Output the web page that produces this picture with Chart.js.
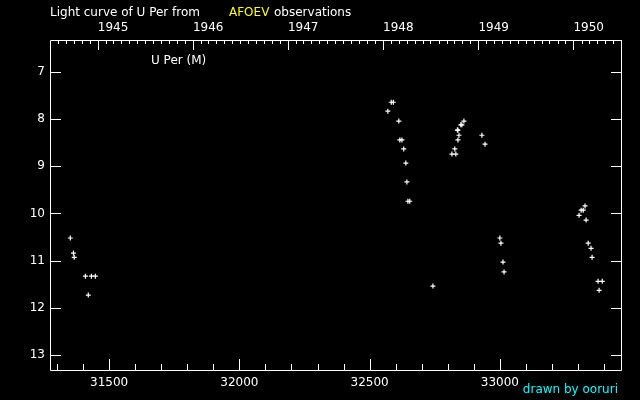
<!DOCTYPE html>
<html>
<head>
<meta charset="utf-8">
<title>Light curve of U Per</title>
<script src="https://cdn.jsdelivr.net/npm/chart.js@4"></script>
<style>
  html, body { margin: 0; padding: 0; background: #000; }
  #wrap { position: relative; width: 640px; height: 400px; }
  canvas { display: block; }
  .txt { position: absolute; font: 12px "DejaVu Sans", sans-serif; color: #fff; white-space: nowrap; line-height: 14px; }
</style>
</head>
<body>
<div id="wrap">
  <canvas id="lc" width="640" height="400"></canvas>
  <div class="txt" style="left:50px; top:5px;">Light curve of U Per from</div>
  <div class="txt" style="left:229px; top:5px; color:#ffff00;">AFOEV</div>
  <div class="txt" style="left:274px; top:5px;">observations</div>
  <div class="txt" style="left:151px; top:53px;">U Per (M)</div>
  <div class="txt" style="right:22px; top:382px; color:#00ffff;">drawn by ooruri</div>
</div>
<script>
// Julian dates (JD - 2400000) and visual magnitudes
const jdValues = [
  31351, 31363, 31366, 31409, 31420, 31432, 31447,
  32570, 32583, 32591, 32612, 32616, 32624, 32631, 32639, 32643, 32647, 32654,
  32743,
  32816, 32827, 32831, 32837, 32839, 32839, 32843, 32850, 32854, 32862,
  32931, 32943,
  33000, 33004, 33012, 33016,
  33304, 33312, 33320, 33327, 33331, 33339, 33350, 33354, 33377, 33381, 33393
];
const magValues = [
  10.52, 10.84, 10.93, 11.33, 11.73, 11.33, 11.33,
  7.83, 7.64, 7.64, 8.04, 8.44, 8.44, 8.63, 8.93, 9.33, 9.74, 9.74,
  11.54,
  8.74, 8.63, 8.74, 8.23, 8.23, 8.44, 8.34, 8.12, 8.12, 8.04,
  8.34, 8.53,
  10.52, 10.63, 11.03, 11.24,
  10.04, 9.93, 9.93, 9.84, 10.14, 10.63, 10.74, 10.93, 11.44, 11.63, 11.44
];

// axis ranges and tick labels
const jdMin = 31273, jdMax = 33465;
const magMin = 6.32, magMax = 13.32;
const magTicks = [7, 8, 9, 10, 11, 12, 13];
const jdMajorStep = 500, jdMinorStep = 100;
const yearLabels = [1945, 1946, 1947, 1948, 1949, 1950];

// JD (minus 2400000) of the first day of a month
function monthJD(year, month) {
  return Date.UTC(year, month, 1) / 86400000 + 2440587.5 - 2400000;
}

const points = jdValues.map((jd, i) => ({ x: jd, y: magValues[i] }));
const labelFont = { family: 'DejaVu Sans', size: 12 };

// draws the white box and the inward tick marks
const framePlugin = {
  id: 'frame',
  afterDraw(chart) {
    const { ctx, chartArea: a, scales } = chart;
    ctx.save();
    ctx.strokeStyle = '#fff';
    ctx.lineWidth = 1;
    ctx.beginPath();
    ctx.rect(a.left + 0.5, a.top + 0.5, a.right - a.left, a.bottom - a.top);

    magTicks.forEach(v => {
      const py = Math.round(scales.y.getPixelForValue(v)) + 0.5;
      ctx.moveTo(a.left, py); ctx.lineTo(a.left + 11, py);
      ctx.moveTo(a.right, py); ctx.lineTo(a.right - 10, py);
    });

    for (let v = Math.ceil(jdMin / jdMinorStep) * jdMinorStep; v <= jdMax; v += jdMinorStep) {
      const px = Math.round(scales.x.getPixelForValue(v)) + 0.5;
      const len = v % jdMajorStep === 0 ? 11 : 6;
      ctx.moveTo(px, a.bottom); ctx.lineTo(px, a.bottom - len);
    }

    for (let yr = 1944; yr <= 1950; yr++) {
      for (let m = 0; m < 12; m++) {
        const jd = monthJD(yr, m);
        if (jd < jdMin || jd > jdMax) continue;
        const px = Math.round(scales.top.getPixelForValue(jd)) + 0.5;
        const len = m === 0 ? 10 : 4;
        ctx.moveTo(px, a.top); ctx.lineTo(px, a.top + len);
      }
    }
    ctx.stroke();
    ctx.restore();
  }
};

const ctx = document.getElementById('lc').getContext('2d');
new Chart(ctx, {
  type: 'scatter',
  data: {
    datasets: [{
      data: points,
      pointStyle: 'cross',
      radius: 2.5,
      borderWidth: 1.2,
      borderColor: '#fff',
      backgroundColor: '#fff'
    }]
  },
  options: {
    responsive: false,
    animation: false,
    layout: { padding: { left: 0, right: 19, top: 0, bottom: 0 } },
    plugins: { legend: { display: false }, tooltip: { enabled: false } },
    scales: {
      x: {
        type: 'linear', position: 'bottom', min: jdMin, max: jdMax,
        grid: { display: false, drawTicks: false }, border: { display: false },
        afterBuildTicks: s => {
          const t = [];
          for (let v = Math.ceil(jdMin / jdMajorStep) * jdMajorStep; v <= jdMax; v += jdMajorStep) t.push({ value: v });
          s.ticks = t;
        },
        afterFit: s => { s.height = 30; },
        ticks: { color: '#fff', font: labelFont, padding: 6, autoSkip: false, maxRotation: 0, callback: v => String(v) }
      },
      top: {
        type: 'linear', position: 'top', min: jdMin, max: jdMax,
        grid: { display: false, drawTicks: false }, border: { display: false },
        afterBuildTicks: s => { s.ticks = yearLabels.map(yr => ({ value: monthJD(yr, 0) })); },
        afterFit: s => { s.height = 40; },
        ticks: {
          color: '#fff', font: labelFont, padding: 5, autoSkip: false, maxRotation: 0, align: 'start',
          callback: (v, i) => String(yearLabels[i])
        }
      },
      y: {
        type: 'linear', position: 'left', reverse: true, min: magMin, max: magMax,
        grid: { display: false, drawTicks: false }, border: { display: false },
        afterBuildTicks: s => { s.ticks = magTicks.map(v => ({ value: v })); },
        afterFit: s => { s.width = 50; },
        ticks: { color: '#fff', font: labelFont, padding: 5, autoSkip: false, callback: v => String(v) }
      }
    }
  },
  plugins: [framePlugin]
});
</script>
</body>
</html>
